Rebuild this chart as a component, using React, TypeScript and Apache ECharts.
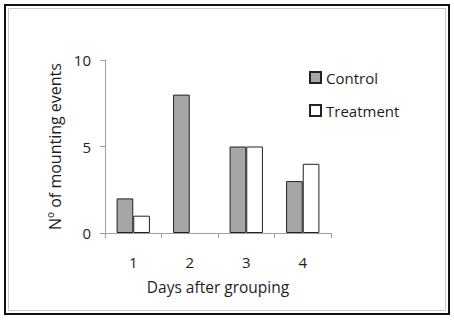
import React, { useEffect, useRef } from "react";
import * as echarts from "echarts";

const categories = ["1", "2", "3", "4"];
const controlValues = [2, 8, 5, 3];
const treatmentValues = [1, 0, 5, 4];
const yTicks = { min: 0, max: 10, interval: 5 };

const FONT = "'Open Sans', 'Noto Sans', sans-serif";
const TXT = "#1e1e1e";

export default function App() {
  const ref = useRef<HTMLDivElement>(null);
  useEffect(() => {
    if (!ref.current) return;
    const chart = echarts.init(ref.current, undefined, { renderer: "svg" });
    chart.setOption({
      animation: false,
      backgroundColor: "#ffffff",
      graphic: [
        {
          type: "rect",
          shape: { x: 5, y: 5, width: 444, height: 309 },
          style: { fill: "none", stroke: "#111", lineWidth: 2 },
          silent: true,
        },
        {
          type: "rect",
          shape: { x: 8.5, y: 8.5, width: 437, height: 302 },
          style: { fill: "none", stroke: "#c8c8c8", lineWidth: 1 },
          silent: true,
        },
      ],
      grid: { left: 105, right: 123, top: 60, bottom: 90 },
      legend: {
        orient: "vertical",
        left: 304,
        top: 65,
        itemWidth: 11,
        itemHeight: 11,
        itemGap: 18,
        icon: "rect",
        textStyle: { fontFamily: FONT, fontSize: 15, color: TXT },
        data: ["Control", "Treatment"],
      },
      xAxis: {
        type: "category",
        data: categories,
        name: "Days after grouping",
        nameLocation: "middle",
        nameGap: 46,
        nameTextStyle: { fontFamily: FONT, fontSize: 15.5, color: TXT },
        axisLine: { lineStyle: { color: "#a0a0a0", width: 1 } },
        axisTick: { show: true, length: 5, lineStyle: { color: "#a0a0a0" } },
        axisLabel: { fontFamily: FONT, fontSize: 15, color: TXT, margin: 21 },
      },
      yAxis: {
        type: "value",
        min: yTicks.min,
        max: yTicks.max,
        interval: yTicks.interval,
        name: "Nº of mounting events",
        nameLocation: "middle",
        nameGap: 42,
        nameTextStyle: { fontFamily: FONT, fontSize: 16, color: TXT },
        axisLine: { show: true, lineStyle: { color: "#a0a0a0", width: 1 } },
        axisTick: { show: true, length: 5, lineStyle: { color: "#a0a0a0" } },
        axisLabel: { fontFamily: FONT, fontSize: 15, color: TXT, margin: 14 },
        splitLine: { show: false },
      },
      series: [
        {
          name: "Control",
          type: "bar",
          data: controlValues,
          barGap: "0%",
          barCategoryGap: "41%",
          itemStyle: { color: "#a6a6a6", borderColor: "#222", borderWidth: 1 },
        },
        {
          name: "Treatment",
          type: "bar",
          data: treatmentValues.map((v) => (v === 0 ? "-" : v)),
          itemStyle: { color: "#ffffff", borderColor: "#222", borderWidth: 1 },
        },
      ],
    });
    return () => chart.dispose();
  }, []);
  return (
    <div
      ref={ref}
      style={{ position: "fixed", left: 0, top: 0, width: 454, height: 323 }}
    />
  );
}
